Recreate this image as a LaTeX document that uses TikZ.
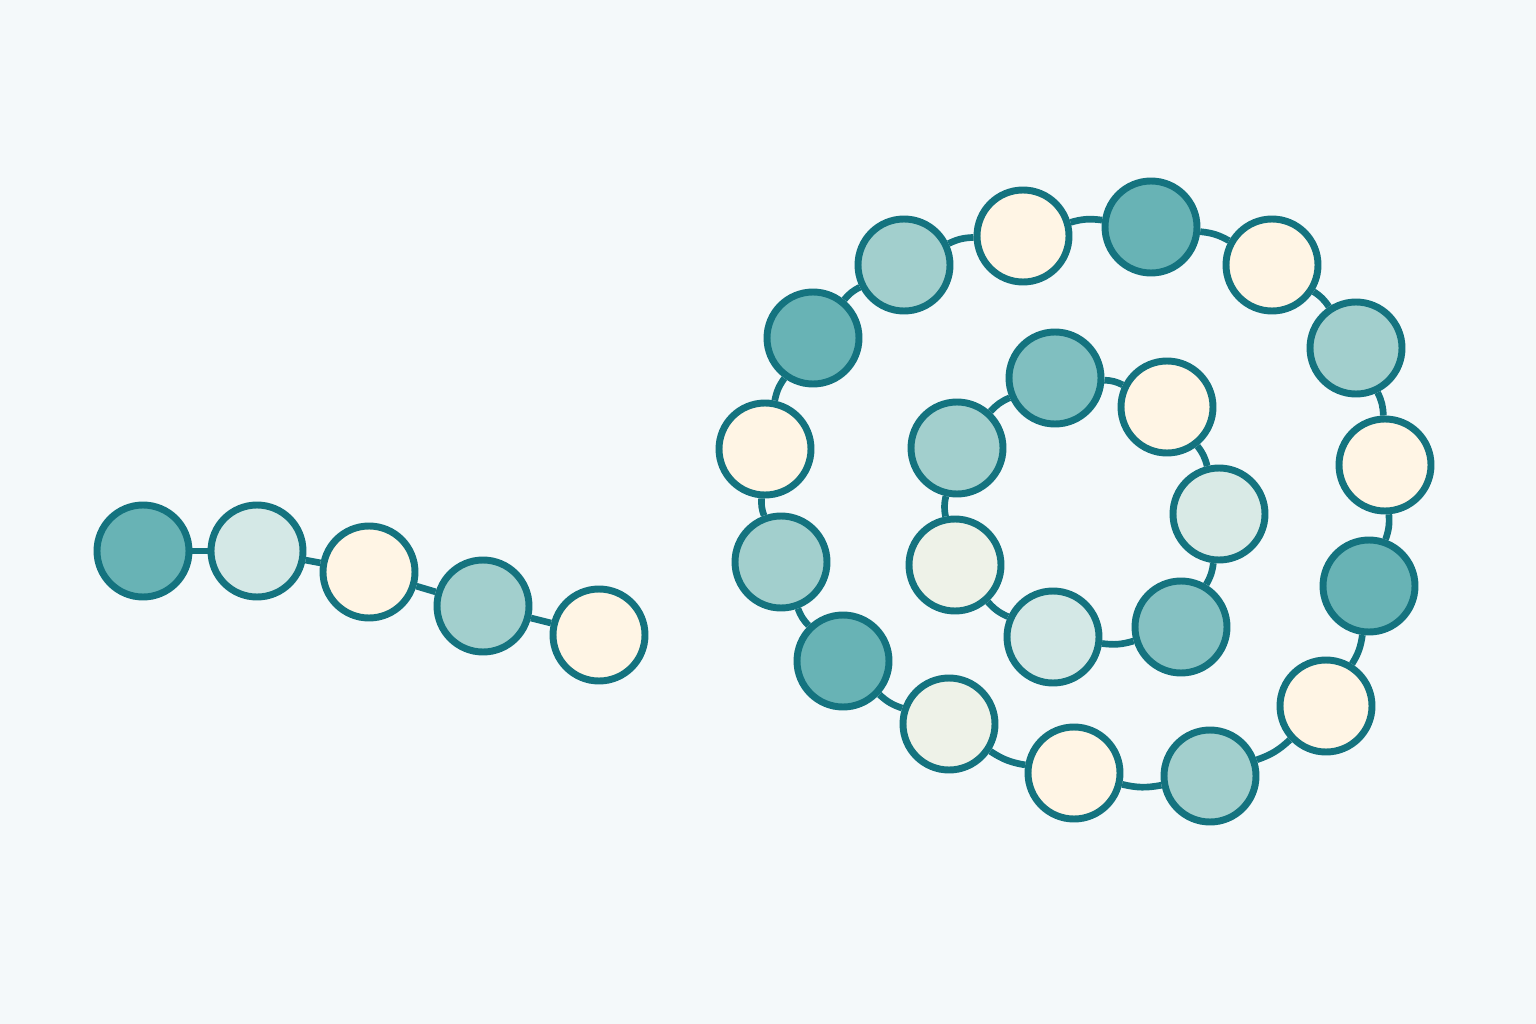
\documentclass[tikz,border=0pt]{standalone}
\usetikzlibrary{backgrounds}
\definecolor{bgc}{HTML}{F4F9FA}
\definecolor{ink}{HTML}{14737F}
\definecolor{cdark}{HTML}{68B3B5}
\definecolor{cmid}{HTML}{A2CFCD}
\definecolor{cmd}{HTML}{80BFC0}
\definecolor{clight}{HTML}{D4E8E6}
\definecolor{ccream}{HTML}{FFF5E5}
\definecolor{cpale}{HTML}{EEF2E8}
\tikzset{
  bead/.style={circle, draw=ink, line width=5.2pt, minimum size=69pt, inner sep=0pt},
  link/.style={draw=ink, line width=5pt},
}
\begin{document}
\begin{tikzpicture}[x=0.75pt, y=-0.75pt]
\useasboundingbox (0,0) rectangle (1536,1024);
% left chain
\node[bead, fill=cdark]  (l1) at (143,551) {};
\node[bead, fill=clight] (l2) at (257,551) {};
\node[bead, fill=ccream] (l3) at (369,572) {};
\node[bead, fill=cmid]   (l4) at (483,606) {};
\node[bead, fill=ccream] (l5) at (599,635) {};
% outer ring
\node[bead, fill=cmid]   (o1) at (904,265) {};
\node[bead, fill=ccream] (o2) at (1023,236) {};
\node[bead, fill=cdark]  (o3) at (1151,227) {};
\node[bead, fill=ccream] (o4) at (1272,265) {};
\node[bead, fill=cmid]   (o5) at (1356,348) {};
\node[bead, fill=ccream] (o6) at (1385,465) {};
\node[bead, fill=cdark]  (o7) at (1369,586) {};
\node[bead, fill=ccream] (o8) at (1326,706) {};
\node[bead, fill=cmid]   (o9) at (1210,776) {};
\node[bead, fill=ccream] (o10) at (1074,773) {};
\node[bead, fill=cpale]  (o11) at (949,724) {};
\node[bead, fill=cdark]  (o12) at (843,661) {};
\node[bead, fill=cmid]   (o13) at (781,562) {};
\node[bead, fill=ccream] (o14) at (765,449) {};
\node[bead, fill=cdark]  (o15) at (813,338) {};
% inner ring
\node[bead, fill=cmd]    (i1) at (1055,378) {};
\node[bead, fill=ccream] (i2) at (1167,407) {};
\node[bead, fill=clight!80!cpale] (i3) at (1219,514) {};
\node[bead, fill=cmd!85!cmid] (i4) at (1181,627) {};
\node[bead, fill=clight] (i5) at (1053,637) {};
\node[bead, fill=cpale]  (i6) at (955,565) {};
\node[bead, fill=cmid]   (i7) at (957,448) {};
\begin{scope}[on background layer]
\fill[bgc] (0,0) rectangle (1536,1024);
\end{scope}
\begin{scope}[on background layer]
\draw[link] (l1) -- (l2);
\draw[link] (l2) -- (l3);
\draw[link] (l3) -- (l4);
\draw[link] (l4) -- (l5);
\foreach \a/\b in {o1/o2,o2/o3,o3/o4,o4/o5,o5/o6,o6/o7,o7/o8,o8/o9,o9/o10,o10/o11,o11/o12,o12/o13,o13/o14,o14/o15,o15/o1,
  i1/i2,i2/i3,i3/i4,i4/i5,i5/i6,i6/i7,i7/i1}
  \draw[link] (\a) to[bend left=12] (\b);
\end{scope}
\end{tikzpicture}
\end{document}
